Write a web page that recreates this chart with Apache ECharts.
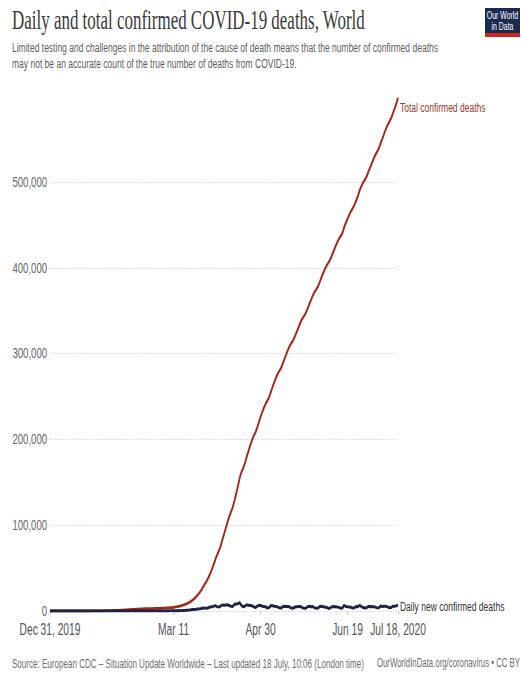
<!DOCTYPE html>
<html>
<head>
<meta charset="utf-8">
<script src="https://cdn.jsdelivr.net/npm/echarts@6/dist/echarts.min.js"></script>
<style>
html,body{margin:0;padding:0;background:#fff;overflow:hidden;width:522px;height:676px}
#wrap{width:522px;height:676px;overflow:hidden}
#chart{width:816px;height:676px;transform:scaleX(0.64);transform-origin:0 0}
</style>
</head>
<body>
<div id="wrap"><div id="chart"></div></div>
<script>
// ---- Data ----
const startDate = '2019-12-31';
const dayCount = 201; // Dec 31, 2019 .. Jul 18, 2020

const tickDates = ['2019-12-31', '2020-03-11', '2020-04-30', '2020-06-19', '2020-07-18'];
const tickLabels = ['Dec 31, 2019', 'Mar 11', 'Apr 30', 'Jun 19', 'Jul 18, 2020'];

const yTickValues = [0, 100000, 200000, 300000, 400000, 500000];

const dailyDeaths = [
  0,0,0,0,0,0,0,0,0,0,1,
  0,0,0,0,1,0,0,0,0,1,
  3,11,9,15,15,24,26,26,38,43,46,
  45,57,64,66,72,73,86,89,97,108,
  97,254,13,143,142,105,98,136,114,118,
  109,97,150,71,64,37,58,55,67,
  54,67,72,84,82,101,104,102,230,210,
  272,339,350,442,376,681,613,771,942,1060,
  1330,1655,1720,2000,2390,2590,2950,3550,3350,3310,3860,
  4620,4970,5540,6270,5110,4750,5520,7140,6790,7100,
  7230,6420,5400,5280,7800,8290,8520,9750,6480,4910,
  5630,7270,6580,6510,6140,5160,3940,5490,6420,6620,
  5550,5380,4730,3440,4120,6280,6040,5510,5160,4480,
  3520,3640,5560,5350,5290,5220,4300,3300,3470,4820,
  4910,5250,5200,3960,3180,3290,4970,5500,4870,5140,3950,
  3090,3420,5170,5590,5040,4760,4190,3010,3610,4880,
  5250,4990,4620,4310,3270,3370,6710,5220,4960,4770,
  4260,3500,3820,5270,5070,6690,4880,4160,3400,3720,
  5480,4860,5220,5030,4530,3640,3890,5870,5330,5620,
  5470,4790,3810,3950,5620,5480,5960,6940
];

const totalDeaths = [
  0,0,0,0,0,0,0,0,0,0,1,
  1,1,1,1,2,2,2,2,2,3,
  6,17,26,41,56,80,106,132,170,213,259,
  304,361,425,491,563,636,722,811,908,1016,
  1113,1367,1380,1523,1665,1770,1868,2004,2118,2236,
  2345,2442,2592,2663,2727,2764,2822,2877,2944,
  2998,3065,3137,3221,3303,3404,3508,3610,3840,4050,
  4322,4661,5011,5453,5829,6510,7123,7894,8836,9896,
  11226,12881,14601,16601,18991,21581,24531,28081,31431,34741,38601,
  43221,48191,53731,60001,65111,69861,75381,82521,89311,96411,
  103641,110061,115461,120741,128541,136831,145351,155101,161581,166491,
  172121,179391,185971,192481,198621,203781,207721,213211,219631,226251,
  231801,237181,241911,245351,249471,255751,261791,267301,272461,276941,
  280461,284101,289661,295011,300301,305521,309821,313121,316591,321411,
  326321,331571,336771,340731,343911,347201,352171,357671,362541,367681,371631,
  374721,378141,383311,388901,393941,398701,402891,405901,409511,414391,
  419641,424631,429251,433561,436831,440201,446911,452131,457091,461861,
  466121,469621,473441,478711,483781,490471,495351,499511,502911,506631,
  512111,516971,522191,527221,531751,535391,539281,545151,550481,556101,
  561571,566361,570171,574121,579741,585221,591181,598121
];

// ---- Categories (consecutive days) ----
const dates = [];
{
  const d0 = new Date(startDate + 'T00:00:00Z');
  for (let i = 0; i < dayCount; i++) {
    const d = new Date(d0.getTime() + i * 86400000);
    dates.push(d.toISOString().slice(0, 10));
  }
}
const tickIndexSet = new Set(tickDates.map(d => dates.indexOf(d)));
const labelFor = {};
tickDates.forEach((d, i) => { labelFor[d] = tickLabels[i]; });

const SANS = '"Liberation Sans", Arial, "DejaVu Sans", sans-serif';
const SERIF = '"Liberation Serif", "DejaVu Serif", serif';

const chart = echarts.init(document.getElementById('chart'), null, { renderer: 'svg' });

chart.setOption({
  backgroundColor: '#ffffff',
  animation: false,
  grid: { left: 78.1, right: 194.1, top: 96.2, bottom: 65, containLabel: false },
  xAxis: {
    type: 'category',
    data: dates,
    boundaryGap: false,
    axisLine: { show: false },
    axisTick: {
      show: true,
      interval: (idx) => tickIndexSet.has(idx),
      length: 4,
      lineStyle: { color: '#bbbbbb', width: 1 }
    },
    axisLabel: {
      interval: (idx) => tickIndexSet.has(idx),
      formatter: (v) => labelFor[v] || '',
      fontFamily: SANS,
      fontSize: 16,
      color: '#555555',
      margin: 11
    },
    splitLine: { show: false }
  },
  yAxis: {
    type: 'value',
    min: 0,
    max: 600000,
    interval: 100000,
    axisLine: { show: false },
    axisTick: { show: false },
    axisLabel: {
      showMaxLabel: false,
      formatter: (v) => yTickValues.includes(v) ? v.toLocaleString('en-US') : '',
      fontFamily: SANS,
      fontSize: 15,
      color: '#666666',
      margin: 4.5
    },
    splitLine: {
      show: true,
      showMaxLine: false,
      lineStyle: { color: '#cccccc', type: [2, 2], width: 1 }
    }
  },
  series: [
    {
      name: 'Total confirmed deaths',
      type: 'line',
      data: totalDeaths,
      showSymbol: false,
      symbol: 'none',
      lineStyle: { color: '#a3271a', width: 2.8 },
      itemStyle: { color: '#a3271a' },
      z: 2,
      endLabel: {
        show: true,
        formatter: 'Total confirmed deaths',
        fontFamily: SANS,
        fontSize: 13.3,
        color: '#9a3b2b',
        distance: 3,
        offset: [0, 9]
      }
    },
    {
      name: 'Daily new confirmed deaths',
      type: 'line',
      data: dailyDeaths,
      showSymbol: false,
      symbol: 'none',
      lineStyle: { color: '#1b2440', width: 3 },
      itemStyle: { color: '#1b2440' },
      z: 3,
      endLabel: {
        show: true,
        formatter: 'Daily new confirmed deaths',
        fontFamily: SANS,
        fontSize: 13.3,
        color: '#333333',
        distance: 3,
        offset: [0, 1]
      }
    }
  ],
  graphic: [
    {
      type: 'text', x: 18.75, y: 20,
      style: {
        text: 'Daily and total confirmed COVID-19 deaths, World',
        fontFamily: SERIF, fontSize: 26.5, fill: '#3a3a3a',
        align: 'left', verticalAlign: 'middle'
      }
    },
    {
      type: 'text', x: 18.75, y: 47,
      style: {
        text: 'Limited testing and challenges in the attribution of the cause of death means that the number of confirmed deaths',
        fontFamily: SANS, fontSize: 13.3, fill: '#5e5e5e',
        align: 'left', verticalAlign: 'middle'
      }
    },
    {
      type: 'text', x: 18.75, y: 63,
      style: {
        text: 'may not be an accurate count of the true number of deaths from COVID-19.',
        fontFamily: SANS, fontSize: 13.3, fill: '#5e5e5e',
        align: 'left', verticalAlign: 'middle'
      }
    },
    {
      type: 'group', x: 757.8, y: 8,
      children: [
        { type: 'rect', shape: { x: 0, y: 0, width: 54.7, height: 25 }, style: { fill: '#1a2a52' } },
        { type: 'rect', shape: { x: 0, y: 25, width: 54.7, height: 4 }, style: { fill: '#ce261e' } },
        { type: 'text', x: 27.35, y: 13, style: { text: 'Our World\nin Data', fontFamily: SANS, fontSize: 10.8, lineHeight: 10.5, fill: '#ffffff', align: 'center', verticalAlign: 'middle' } }
      ]
    },
    {
      type: 'text', x: 18.75, y: 663,
      style: {
        text: 'Source: European CDC \u2013 Situation Update Worldwide \u2013 Last updated 18 July, 10:06 (London time)',
        fontFamily: SANS, fontSize: 12.6, fill: '#6e6e6e',
        align: 'left', verticalAlign: 'middle'
      }
    },
    {
      type: 'text', x: 812.5, y: 663,
      style: {
        text: 'OurWorldInData.org/coronavirus \u2022 CC BY',
        fontFamily: SANS, fontSize: 12.2, fill: '#6e6e6e',
        align: 'right', verticalAlign: 'middle'
      }
    }
  ]
});
</script>
</body>
</html>
